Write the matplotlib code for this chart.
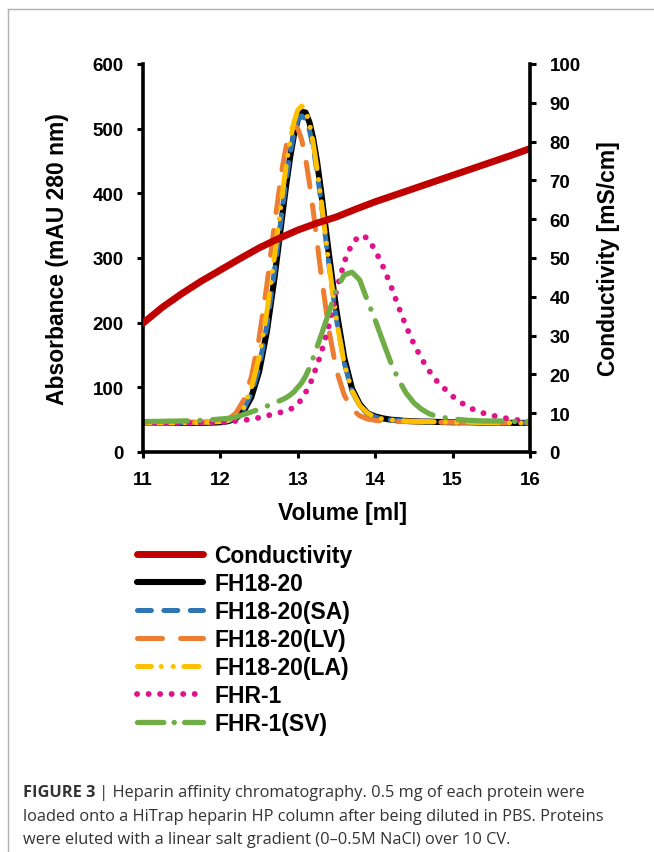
import matplotlib
matplotlib.use('Agg')
import matplotlib.pyplot as plt
from matplotlib.lines import Line2D

plt.rcParams['font.family'] = ['Liberation Sans', 'DejaVu Sans']
plt.rcParams['font.weight'] = 'bold'
plt.rcParams['axes.labelweight'] = 'bold'
plt.rcParams['lines.scale_dashes'] = False

# conductivity trace (secondary axis, mS/cm)
cond_vol = [11.0, 11.25, 11.5, 11.75, 12.0, 12.25, 12.5, 12.75, 13.0, 13.25, 13.5,
            13.75, 14.0, 14.25, 14.5, 14.75, 15.0, 15.25, 15.5, 15.75, 16.0]
cond_ms = [33.2, 37.3, 40.8, 44.0, 46.9, 49.8, 52.6, 55.0, 57.2, 59.0, 60.6,
           62.6, 64.5, 66.2, 67.9, 69.6, 71.3, 73.0, 74.7, 76.4, 78.2]

# absorbance traces (mAU 280 nm)
vol = [11.0, 11.5, 11.8, 12.0, 12.1, 12.2, 12.3, 12.4, 12.5, 12.6, 12.7, 12.8,
       12.85, 12.9, 12.95, 13.0, 13.05, 13.1, 13.15, 13.2, 13.25, 13.3, 13.4, 13.5,
       13.6, 13.7, 13.8, 13.9, 14.0, 14.1, 14.2, 14.3, 14.4, 14.5, 14.6, 14.7, 14.8,
       15.0, 15.2, 15.4, 15.6, 15.8, 16.0]
fh18_20 = [45, 45, 45, 46, 47.6, 52, 63, 85, 124, 186, 270, 366,
           413, 455, 490, 514, 526, 525, 510, 484, 448, 404, 308, 218,
           146, 98, 74, 60, 55, 52, 50, 49, 48, 47.5, 47, 47, 46.5,
           46, 46, 45.5, 45.5, 45, 45]
fh18_20_sa = [45, 45, 45, 46, 48, 53, 66, 90, 131, 195, 280, 376,
              421, 461, 493, 513, 520, 515, 498, 470, 432, 388, 292, 205,
              138, 94, 72, 60, 54, 51, 49.5, 48.5, 48, 47.5, 47, 47, 46.5,
              46, 46, 45.5, 45.5, 45, 45]
fh18_20_lv = [45, 45, 46, 47, 50.5, 60, 80, 116, 176, 258, 353, 440,
              473, 495, 505, 500, 483, 454, 416, 372, 324, 276, 190, 126,
              88, 66, 56, 51, 49, 48, 47.5, 47, 47, 46.5, 46.5, 46, 46,
              46, 45.5, 45.5, 45, 45, 45]
fh18_20_la = [45, 45, 46, 47, 49, 55, 68, 99, 146, 216, 304, 399,
              443, 481, 510, 529, 535, 528, 509, 477, 437, 391, 293, 204,
              136, 95, 72, 60, 54, 51, 49.5, 48.5, 48, 47.5, 47, 47, 46.5,
              46, 46, 45.5, 45.5, 45, 45]
fhr1 = [45, 45, 46, 46, 47, 48, 49, 51, 53, 56, 59, 62,
        64, 66, 69, 74, 82, 92, 102, 118, 135, 152, 195, 250,
        294, 322, 335, 331, 312, 287, 258, 225, 194, 167, 144, 125, 109,
        86, 69, 60, 54, 50, 47]
fhr1_sv = [47, 48, 49, 51, 52, 54, 58, 62, 66, 71, 76, 81,
           84, 88, 93, 100, 107, 117, 130, 146, 163, 180, 215, 252,
           274, 278, 266, 234, 204, 171, 139, 112, 91, 76, 66, 59, 55,
           51, 49, 48, 48, 47, 47]

labels = ['Conductivity', 'FH18-20', 'FH18-20(SA)', 'FH18-20(LV)',
          'FH18-20(LA)', 'FHR-1', 'FHR-1(SV)']
colors = ['#C00000', '#000000', '#2E75B6', '#ED7D31', '#FFC000', '#E0118C', '#70AD47']
widths = [5.0, 4.4, 3.6, 3.6, 3.6, 4.2, 3.8]
dashes = [None, None, (10, 9), (18, 13), (22, 8, 0.1, 8, 0.1, 8),
          (0.1, 8.2), (32, 9, 0.1, 9)]
# the legend samples show a shorter cut of the same patterns
legend_dashes = [None, None, (10, 9), (18, 13), (10, 7, 0.1, 8.6, 0.1, 7.5, 11, 60),
                 (0.1, 8.2), (19, 7.4, 0.1, 7.4, 16, 60)]
absorbance = [fh18_20, fh18_20_sa, fh18_20_lv, fh18_20_la, fhr1, fhr1_sv]


def style(i, pattern):
    kw = dict(color=colors[i], lw=widths[i])
    if pattern[i] is None:
        kw['solid_capstyle'] = 'round'
    else:
        kw['dashes'] = pattern[i]
        kw['dash_capstyle'] = 'round'
    return kw


fig = plt.figure(figsize=(6.54, 8.53), dpi=100)
ax = fig.add_axes([143 / 654, 1 - 453 / 853, 387 / 654, 388 / 853])
ax2 = ax.twinx()

for i, y in enumerate(absorbance, start=1):
    ax.plot(vol, y, **style(i, dashes))
ax2.plot(cond_vol, cond_ms, **style(0, dashes))

ax.set_xlim(11, 16)
ax.set_ylim(0, 600)
ax2.set_ylim(0, 100)
ax.set_xticks(range(11, 17))
ax.set_yticks(range(0, 601, 100))
ax2.set_yticks(range(0, 101, 10))

for a in (ax, ax2):
    for s in a.spines.values():
        s.set_linewidth(2.6)
    a.spines['top'].set_visible(False)
    a.tick_params(direction='out', length=4.5, width=2.2, pad=9.5, labelsize=13.5)
ax.spines['right'].set_visible(False)
ax2.spines['left'].set_visible(False)
ax2.spines['bottom'].set_visible(False)

ax.set_xlabel('Volume [ml]', fontsize=16.5, va='center')
ax.xaxis.set_label_coords(0.515, -0.157)
ax.set_ylabel('Absorbance (mAU 280 nm)', fontsize=16.5, va='center')
ax.yaxis.set_label_coords(-0.22, 0.5)
ax2.set_ylabel('Conductivity [mS/cm]', fontsize=16.5, va='center')
ax2.yaxis.set_label_coords(1.203, 0.5)

handles = [Line2D([], [], **style(i, legend_dashes)) for i in range(len(labels))]
fig.legend(handles, labels, loc='upper left', bbox_to_anchor=(137 / 654, 1 - 545 / 853),
           frameon=False, borderpad=0, borderaxespad=0, handlelength=2.9,
           handletextpad=0.48, labelspacing=0.22, prop=dict(weight='bold', size=16.5))

# frame lines of the figure panel
fig.add_artist(Line2D([8 / 654, 8 / 654], [0, 1 - 10 / 853], transform=fig.transFigure,
                      color='#b0b0b0', lw=1))
fig.add_artist(Line2D([8 / 654, 1], [1 - 10 / 853, 1 - 10 / 853], transform=fig.transFigure,
                      color='#b0b0b0', lw=1))

cap = dict(fontsize=11.8, color='#333333', va='center', family=['Open Sans', 'DejaVu Sans'])
t1 = fig.text(23 / 654, 1 - 793 / 853, 'FIGURE 3', weight='bold', **cap)
ax.annotate(' | Heparin affinity chromatography. 0.5 mg of each protein were',
            xy=(1, 0.5), xycoords=t1, weight='normal', **cap)
fig.text(23 / 654, 1 - 817 / 853,
         'loaded onto a HiTrap heparin HP column after being diluted in PBS. Proteins',
         weight='normal', **cap)
fig.text(23 / 654, 1 - 840 / 853,
         'were eluted with a linear salt gradient (0\u20130.5M NaCl) over 10 CV.',
         weight='normal', **cap)

fig.savefig('out.png', dpi=100)
